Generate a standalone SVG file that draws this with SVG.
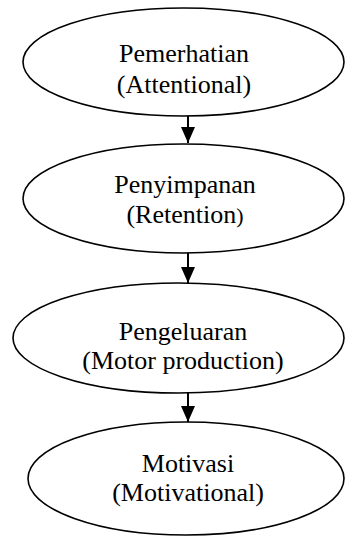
<svg xmlns="http://www.w3.org/2000/svg" width="345" height="536" viewBox="0 0 345 536">
<style>
.node ellipse{fill:#fff;stroke:#000;stroke-width:1.6}
.node text{font-family:"Liberation Serif","Times New Roman",serif;font-size:26px;fill:#000;text-anchor:middle}
.conn line{stroke:#000;stroke-width:2}
</style>
<defs>
<marker id="ah" markerWidth="16" markerHeight="14" refX="16" refY="7" orient="auto" markerUnits="userSpaceOnUse" viewBox="0 0 16 14">
<path d="M0,0 L16,7 L0,14 Z" fill="#000"/>
</marker>
</defs>
<rect width="345" height="536" fill="#fff"/>
<g id="n1" class="node">
<ellipse cx="183.5" cy="62" rx="160.5" ry="54"/>
<text x="184" y="62">Pemerhatian</text>
<text x="184" y="93">(Attentional)</text>
</g>
<g id="n2" class="node">
<ellipse cx="183.5" cy="198.5" rx="160.5" ry="54.5"/>
<text x="185" y="193">Penyimpanan</text>
<text x="185" y="223">(Retention<tspan font-size="22">)</tspan></text>
</g>
<g id="n3" class="node">
<ellipse cx="178.5" cy="338" rx="165.5" ry="55"/>
<text x="183" y="340">Pengeluaran</text>
<text x="183" y="369">(Motor production)</text>
</g>
<g id="n4" class="node">
<ellipse cx="186" cy="478.5" rx="158" ry="56.5"/>
<text x="188" y="472">Motivasi</text>
<text x="188" y="501">(Motivational)</text>
</g>
<g id="connectors" class="conn">
<line x1="188" y1="116" x2="188" y2="143" marker-end="url(#ah)"/>
<line x1="188" y1="253" x2="188" y2="283" marker-end="url(#ah)"/>
<line x1="188" y1="393" x2="188" y2="422" marker-end="url(#ah)"/>
</g>
</svg>
